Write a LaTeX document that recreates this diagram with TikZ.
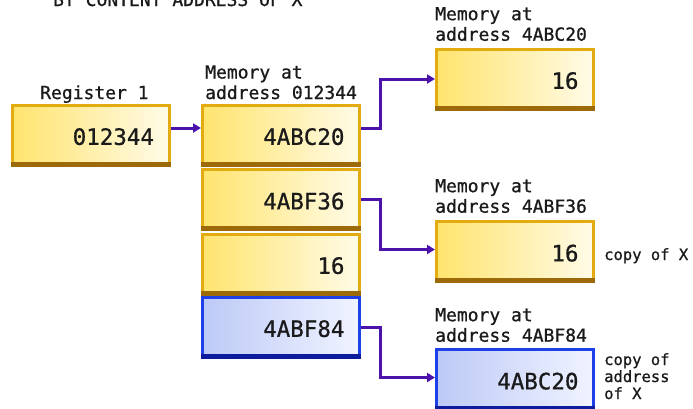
\documentclass[tikz,border=0pt]{standalone}
\usepackage{fontspec}
\usetikzlibrary{arrows.meta}
\newfontfamily\monof[FakeBold=0.8]{DejaVu Sans Mono}
\newcommand\lblfont{\monof\fontsize{18}{20.5}\selectfont}
\newcommand\valfont{\monof\fontsize{22.5}{27}\selectfont}
\newcommand\notefont{\monof\fontsize{15.5}{17}\selectfont}
\definecolor{goldline}{HTML}{E2AC10}
\definecolor{goldbot}{HTML}{9C6A08}
\definecolor{goldL}{HTML}{FFE46E}
\definecolor{goldR}{HTML}{FFFBE8}
\definecolor{blueline}{HTML}{1E40E8}
\definecolor{bluebot}{HTML}{0C1C9C}
\definecolor{blueL}{HTML}{BDCAF6}
\definecolor{blueR}{HTML}{F0F3FF}
\definecolor{connc}{HTML}{4C12AC}
\definecolor{textc}{HTML}{1A1A1A}
\begin{document}
\begin{tikzpicture}[x=1pt,y=-1pt,
  every node/.style={text=textc},
  goldbox/.style={draw=goldline, line width=3pt, left color=goldL, right color=goldR,
    minimum width=157pt, minimum height=60pt, inner xsep=15pt, inner ysep=0pt,
    text width=127pt, align=right, text height=20pt, font=\valfont},
  bluebox/.style={goldbox, draw=blueline, left color=blueL, right color=blueR},
  goldbottom/.style={draw=goldbot, line width=5pt},
  bluebottom/.style={draw=bluebot, line width=5pt},
  lbl/.style={font=\lblfont, align=left, inner sep=0pt, anchor=base west},
  note/.style={font=\notefont, align=left, inner sep=0pt, anchor=base west},
  conn/.style={draw=connc, line width=3pt, -{Triangle[length=8pt,width=9pt]}}]
\useasboundingbox (0,0) rectangle (693,408);
\clip (0,0) rectangle (693,408);
\fill[white] (0,0) rectangle (693,408);

\node[lbl] (title) at (53,6) {BY CONTENT ADDRESS OF X};

% boxes
\node[goldbox] (reg) at (90.5,135) {012344};
\node[goldbox] (m1) at (281,135) {4ABC20};
\node[goldbox] (m2) at (281,199.5) {4ABF36};
\node[goldbox] (m3) at (281,264) {16};
\node[bluebox] (m4) at (281,327) {4ABF84};
\node[goldbox] (r1) at (515,79) {16};
\node[goldbox] (r2) at (515,251.5) {16};
\node[bluebox] (r3) at (515,379.5) {4ABC20};

\foreach \n in {reg,m1,m2,m3,r1,r2}
  \draw[goldbottom] ([yshift=2.5pt]\n.south west) -- ([yshift=2.5pt]\n.south east);
\foreach \n in {m4,r3}
  \draw[bluebottom] ([yshift=2.5pt]\n.south west) -- ([yshift=2.5pt]\n.south east);

% labels (anchored at the baseline of their last line)
\node[lbl] (lreg) at (40,99) {Register 1};
\node[lbl] (lm1) at (205,99) {Memory at\\address 012344};
\node[lbl] (lr1) at (435,40.7) {Memory at\\address 4ABC20};
\node[lbl] (lr2) at (435,212.7) {Memory at\\address 4ABF36};
\node[lbl] (lr3) at (435,341.7) {Memory at\\address 4ABF84};

\node[note] (n2) at (604,260) {copy of X};
\node[note] (n3) at (604,399) {copy of\\address\\of X};

% connectors
\draw[conn] ([yshift=7pt]reg.east) -- ([yshift=7pt]m1.west);
\draw[conn] ([yshift=7pt]m1.east) -- ++(19,0) |- (r1.west);
\draw[conn] (m2.east) -- ++(19,0) |- ([yshift=2pt]r2.west);
\draw[conn] (m4.east) -- ++(19,0) |- ([yshift=2pt]r3.west);
\end{tikzpicture}
\end{document}
